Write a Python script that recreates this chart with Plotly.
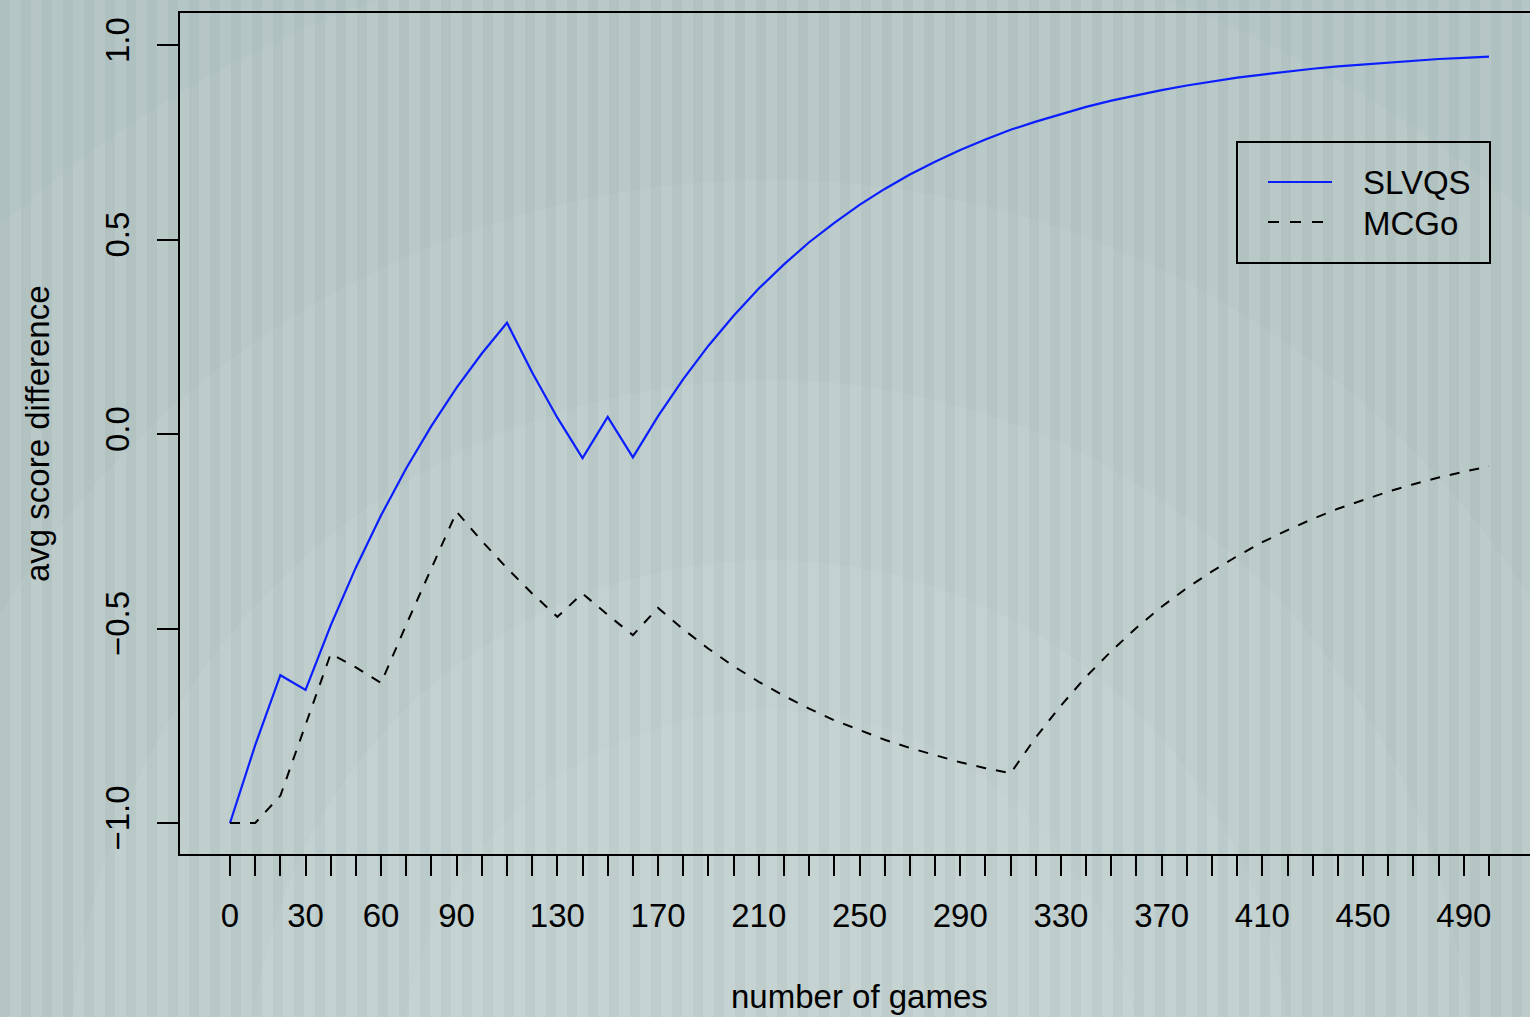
import plotly.graph_objects as go

games = [0, 10, 20, 30, 40, 50, 60, 70, 80, 90, 100, 110, 120, 130, 140, 150, 160, 170,
         180, 190, 200, 210, 220, 230, 240, 250, 260, 270, 280, 290, 300, 310, 320, 330,
         340, 350, 360, 370, 380, 390, 400, 410, 420, 430, 440, 450, 460, 470, 480, 490, 500]

slvqs = [-1.00, -0.80, -0.62, -0.658, -0.492, -0.343, -0.209, -0.088, 0.021, 0.119, 0.207,
         0.286, 0.158, 0.042, -0.062, 0.044, -0.060, 0.046, 0.141, 0.227, 0.304, 0.374,
         0.436, 0.493, 0.543, 0.589, 0.630, 0.667, 0.700, 0.730, 0.757, 0.782, 0.803,
         0.823, 0.841, 0.857, 0.871, 0.884, 0.896, 0.906, 0.916, 0.924, 0.932, 0.939,
         0.945, 0.950, 0.955, 0.960, 0.964, 0.967, 0.970]

mcgo = [-1.00, -1.00, -0.93, -0.75, -0.565, -0.60, -0.64, -0.49, -0.345, -0.20, -0.275,
        -0.345, -0.41, -0.47, -0.41, -0.465, -0.517, -0.447, -0.502, -0.552, -0.597,
        -0.637, -0.673, -0.706, -0.736, -0.762, -0.786, -0.807, -0.826, -0.844, -0.859,
        -0.872, -0.78, -0.698, -0.624, -0.558, -0.498, -0.444, -0.396, -0.353, -0.314,
        -0.278, -0.247, -0.218, -0.192, -0.169, -0.148, -0.129, -0.112, -0.097, -0.083]

x_tick_vals = games
x_labels = {0: "0", 30: "30", 60: "60", 90: "90", 130: "130", 170: "170", 210: "210",
            250: "250", 290: "290", 330: "330", 370: "370", 410: "410", 450: "450", 490: "490"}
x_tick_text = [x_labels.get(v, "") for v in x_tick_vals]

y_tick_vals = [-1.0, -0.5, 0.0, 0.5, 1.0]
y_tick_text = ["\u22121.0", "\u22120.5", "0.0", "0.5", "1.0"]

series_names = ["SLVQS", "MCGo"]

W, H = 1530, 1017
ML, MR, MT, MB = 180, 0, 13, 163
PW, PH = W - ML - MR, H - MT - MB
FONT = "Liberation Sans, Arial, Helvetica, sans-serif"
FS = 33
BG = "#b6c6c6"


def px(x):
    return (x - ML) / PW


def py(y):
    return (H - MB - y) / PH


fig = go.Figure()
fig.add_trace(go.Scatter(x=games, y=slvqs, mode="lines", name=series_names[0],
                         line=dict(color="#0a1eff", width=2.2)))
fig.add_trace(go.Scatter(x=games, y=mcgo, mode="lines", name=series_names[1],
                         line=dict(color="black", width=2, dash="10px,10px")))

shapes = []
# soft radial lightening of the background
cx, cy = 770, 1080
for r, op in [(1150, 0.08), (900, 0.10), (700, 0.10), (520, 0.10), (370, 0.10)]:
    shapes.append(dict(type="circle", xref="paper", yref="paper", layer="below",
                       x0=px(cx - r), x1=px(cx + r), y0=py(cy + r), y1=py(cy - r),
                       fillcolor=f"rgba(228,238,232,{op})", line=dict(width=0)))
# vertical stripes
sx = 0
while sx < W:
    shapes.append(dict(type="rect", xref="paper", yref="paper", layer="below",
                       x0=px(sx), x1=px(sx + 10), y0=py(H), y1=py(0),
                       fillcolor="rgba(80,110,115,0.07)", line=dict(width=0)))
    sx += 21

# legend box and samples
shapes.append(dict(type="rect", xref="paper", yref="paper",
                   x0=px(1237), x1=px(1490), y0=py(263), y1=py(142),
                   line=dict(color="black", width=2), fillcolor="rgba(0,0,0,0)"))
shapes.append(dict(type="line", xref="paper", yref="paper",
                   x0=px(1268), x1=px(1332), y0=py(182), y1=py(182),
                   line=dict(color="#0a1eff", width=2.2)))
shapes.append(dict(type="line", xref="paper", yref="paper",
                   x0=px(1268), x1=px(1326), y0=py(222), y1=py(222),
                   line=dict(color="black", width=2, dash="11px,11px")))

annotations = [
    dict(text=series_names[0], xref="paper", yref="paper", x=px(1361), y=py(182),
         xanchor="left", yanchor="middle", showarrow=False,
         font=dict(family=FONT, size=FS, color="black")),
    dict(text=series_names[1], xref="paper", yref="paper", x=px(1361), y=py(223),
         xanchor="left", yanchor="middle", showarrow=False,
         font=dict(family=FONT, size=FS, color="black")),
    dict(text="number of games", xref="paper", yref="paper", x=px(860), y=py(996),
         xanchor="center", yanchor="middle", showarrow=False,
         font=dict(family=FONT, size=FS, color="black")),
    dict(text="avg score difference", xref="paper", yref="paper", x=px(37), y=py(434),
         xanchor="center", yanchor="middle", showarrow=False, textangle=-90,
         font=dict(family=FONT, size=FS, color="black")),
]

fig.update_layout(
    width=W, height=H,
    margin=dict(l=ML, r=MR, t=MT, b=MB, pad=0),
    paper_bgcolor=BG,
    plot_bgcolor="rgba(0,0,0,0)",
    showlegend=False,
    shapes=shapes,
    annotations=annotations,
    font=dict(family=FONT, size=FS, color="black"),
)
fig.update_xaxes(range=[-19.86, 516.28], tickmode="array", tickvals=x_tick_vals,
                 ticktext=x_tick_text, ticks="outside", ticklen=20, tickwidth=2,
                 tickcolor="black", showline=True, linecolor="black", linewidth=2,
                 mirror=True, showgrid=False, zeroline=False, ticklabelstandoff=11,
                 tickfont=dict(family=FONT, size=FS, color="black"))
fig.update_yaxes(range=[-1.0797, 1.0823], tickmode="array", tickvals=y_tick_vals,
                 ticktext=y_tick_text, ticks="outside", ticklen=21, tickwidth=2,
                 tickcolor="black", showline=True, linecolor="black", linewidth=2,
                 mirror=False, showgrid=False, zeroline=False, tickangle=-90,
                 ticklabelstandoff=15,
                 tickfont=dict(family=FONT, size=FS, color="black"))

fig.write_html(
    "out.html",
    config={"displayModeBar": False},
    post_script="document.body.style.margin='0';document.body.style.overflow='hidden';"
                "document.body.style.background='" + BG + "';",
)
